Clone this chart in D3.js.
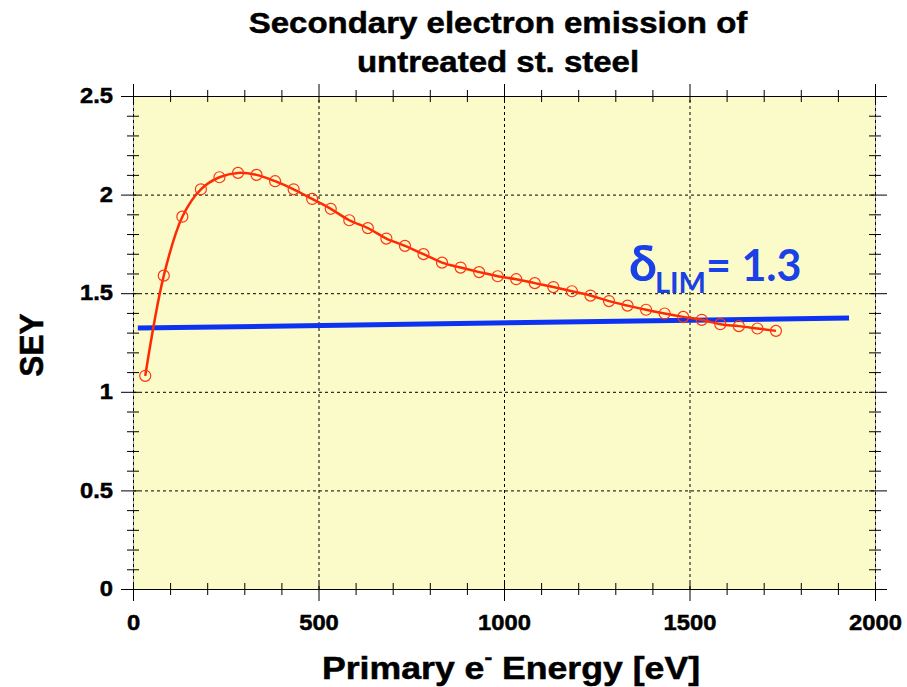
<!DOCTYPE html>
<html>
<head>
<meta charset="utf-8">
<script src="https://cdn.jsdelivr.net/npm/d3@7/dist/d3.min.js"></script>
<style>
  html, body { margin: 0; padding: 0; background: #ffffff; }
  svg { display: block; }
  text { font-family: "Liberation Sans", Arial, sans-serif; font-weight: bold; fill: #000; }
  .heavy { stroke: #000; stroke-width: 0.5px; }
</style>
</head>
<body>
<svg id="chart" width="907" height="687"></svg>
<script>
// Primary electron energy [eV] of each measurement
const energy = [33, 83, 133, 183, 233, 283, 333, 383, 433, 483,
                533, 583, 633, 683, 733, 783, 833, 883, 933, 983,
                1033, 1083, 1133, 1183, 1233, 1283, 1333, 1383, 1433, 1483,
                1533, 1583, 1633, 1683, 1733];
// Measured secondary electron yield
const sey = [1.081, 1.589, 1.888, 2.027, 2.088, 2.110, 2.100, 2.068, 2.027, 1.978,
             1.928, 1.870, 1.830, 1.777, 1.740, 1.698, 1.655, 1.630, 1.607, 1.586,
             1.571, 1.551, 1.531, 1.510, 1.488, 1.460, 1.437, 1.416, 1.397, 1.380,
             1.365, 1.343, 1.333, 1.321, 1.309];
// Threshold line endpoints (energy, yield)
const limitEnergy = [13, 1930];
const limitYield = [1.323, 1.374];
const limitLabel = "1.3";

const xTicks = [0, 500, 1000, 1500, 2000];
const yTicks = [0, 0.5, 1, 1.5, 2, 2.5];
const xMinor = [100, 200, 300, 400, 600, 700, 800, 900, 1100, 1200, 1300, 1400, 1600, 1700, 1800, 1900];
const yMinor = [0.1, 0.2, 0.3, 0.4, 0.6, 0.7, 0.8, 0.9, 1.1, 1.2, 1.3, 1.4, 1.6, 1.7, 1.8, 1.9, 2.1, 2.2, 2.3, 2.4];

const svg = d3.select("#chart");
const x = d3.scaleLinear().domain([0, 2000]).range([133, 875]);
const y = d3.scaleLinear().domain([0, 2.5]).range([589, 96]);
const [x0, x1] = x.range();
const [y0, y1] = y.range();

// plot area
svg.append("rect")
  .attr("x", x0).attr("y", y1)
  .attr("width", x1 - x0).attr("height", y0 - y1)
  .attr("fill", "#fbfbc9");

// dashed grid
const grid = svg.append("g").attr("stroke", "#000").attr("stroke-width", 1).attr("stroke-dasharray", "3,3");
grid.selectAll(".gx").data(xTicks.filter(d => d > 0 && d < 2000)).join("line")
  .attr("x1", d => x(d) + 0.5).attr("x2", d => x(d) + 0.5)
  .attr("y1", y0).attr("y2", y1);
grid.selectAll(".gy").data(yTicks.filter(d => d > 0 && d < 2.5)).join("line")
  .attr("y1", d => y(d) + 0.5).attr("y2", d => y(d) + 0.5)
  .attr("x1", x0).attr("x2", x1);

// frame: top and bottom solid, sides grey with dashes
const frame = svg.append("g");
frame.append("line").attr("x1", x0 - 12).attr("x2", x1 + 12).attr("y1", y0 + 0.5).attr("y2", y0 + 0.5).attr("stroke", "#000");
frame.append("line").attr("x1", x0 - 12).attr("x2", x1 + 12).attr("y1", y1 + 0.5).attr("y2", y1 + 0.5).attr("stroke", "#000");
[x0, x1].forEach(px => {
  frame.append("line").attr("x1", px + 0.5).attr("x2", px + 0.5).attr("y1", y1 - 12).attr("y2", y0 + 12).attr("stroke", "#9a9a9a");
  frame.append("line").attr("x1", px + 0.5).attr("x2", px + 0.5).attr("y1", y1).attr("y2", y0).attr("stroke", "#000").attr("stroke-dasharray", "3,3");
});

// tick marks
const ticks = svg.append("g").attr("stroke", "#000").attr("stroke-width", 1);
xMinor.forEach(v => {
  [y0, y1].forEach(py => ticks.append("line").attr("x1", x(v) + 0.5).attr("x2", x(v) + 0.5).attr("y1", py - 6).attr("y2", py + 6));
});
xTicks.forEach(v => {
  ticks.append("line").attr("x1", x(v) + 0.5).attr("x2", x(v) + 0.5).attr("y1", y0 - 6).attr("y2", y0 + 12);
  ticks.append("line").attr("x1", x(v) + 0.5).attr("x2", x(v) + 0.5).attr("y1", y1 + 6).attr("y2", y1 - 12);
});
yMinor.forEach(v => {
  [x0, x1].forEach(px => ticks.append("line").attr("y1", y(v) + 0.5).attr("y2", y(v) + 0.5).attr("x1", px - 6).attr("x2", px + 6));
});
yTicks.forEach(v => {
  ticks.append("line").attr("y1", y(v) + 0.5).attr("y2", y(v) + 0.5).attr("x1", x0 - 12).attr("x2", x0 + 6);
  ticks.append("line").attr("y1", y(v) + 0.5).attr("y2", y(v) + 0.5).attr("x1", x1 + 12).attr("x2", x1 - 6);
});

// tick labels via d3 axes (wide, heavy face)
const stretch = 1.08;
const xAxis = svg.append("g").attr("transform", `translate(0,${y0})`)
  .call(d3.axisBottom(x).tickValues(xTicks).tickSize(0).tickPadding(25).tickFormat(d3.format("d")));
const yAxis = svg.append("g").attr("transform", `translate(${x0},0)`)
  .call(d3.axisLeft(y).tickValues(yTicks).tickSize(0).tickPadding(20).tickFormat(d => String(d)));
[xAxis, yAxis].forEach(g => {
  g.select(".domain").remove();
  g.selectAll("text").attr("font-size", 22).attr("font-family", "Liberation Sans, Arial, sans-serif")
    .attr("font-weight", "bold").attr("fill", "#000").attr("class", "heavy")
    .attr("transform", `scale(${stretch},1)`);
});
yAxis.selectAll("text").attr("x", -20 / stretch).attr("dy", "0.3em");

// threshold line
svg.append("line")
  .attr("x1", x(limitEnergy[0])).attr("y1", y(limitYield[0]))
  .attr("x2", x(limitEnergy[1])).attr("y2", y(limitYield[1]))
  .attr("stroke", "#0d33f2").attr("stroke-width", 5);

// measured curve
const pts = energy.map((e, i) => [e, sey[i]]);
svg.append("path")
  .datum(pts)
  .attr("fill", "none").attr("stroke", "#ff2a00").attr("stroke-width", 2.5)
  .attr("d", d3.line().x(d => x(d[0])).y(d => y(d[1])).curve(d3.curveCatmullRom.alpha(0.5)));
svg.append("g").selectAll("circle").data(pts).join("circle")
  .attr("cx", d => x(d[0])).attr("cy", d => y(d[1])).attr("r", 5.5)
  .attr("fill", "none").attr("stroke", "#ff3311").attr("stroke-width", 1.2);

// threshold label
const lab = svg.append("text")
  .attr("x", 629).attr("y", 281)
  .style("font-family", "Lato, 'Open Sans', sans-serif")
  .style("font-weight", "bold")
  .style("fill", "#1a40e8")
  .attr("font-size", 43);
lab.append("tspan").attr("font-size", 50).text("δ");
lab.append("tspan").attr("font-size", 29).attr("dy", 12).attr("dx", -2).text("LIM");
lab.append("tspan").attr("dy", -12).text("= " + limitLabel);

// title
const titleLines = ["Secondary electron emission of", "untreated st. steel"];
svg.append("g").selectAll("text").data(titleLines).join("text")
  .attr("class", "heavy")
  .attr("transform", (d, i) => `translate(498,${33 + i * 39}) scale(1.1,1)`)
  .attr("text-anchor", "middle").attr("font-size", 30)
  .text(d => d);

// axis titles
const xl = svg.append("text")
  .attr("class", "heavy")
  .attr("transform", "translate(511,679) scale(1.15,1)")
  .attr("text-anchor", "middle").attr("font-size", 31);
xl.append("tspan").text("Primary e");
xl.append("tspan").attr("dy", -15).attr("font-size", 20).text("-");
xl.append("tspan").attr("dy", 15).text(" Energy [eV]");

svg.append("text")
  .attr("class", "heavy")
  .attr("transform", "translate(43,345) rotate(-90) scale(1.02,1.1)")
  .attr("text-anchor", "middle").attr("font-size", 31)
  .text("SEY");
</script>
</body>
</html>
